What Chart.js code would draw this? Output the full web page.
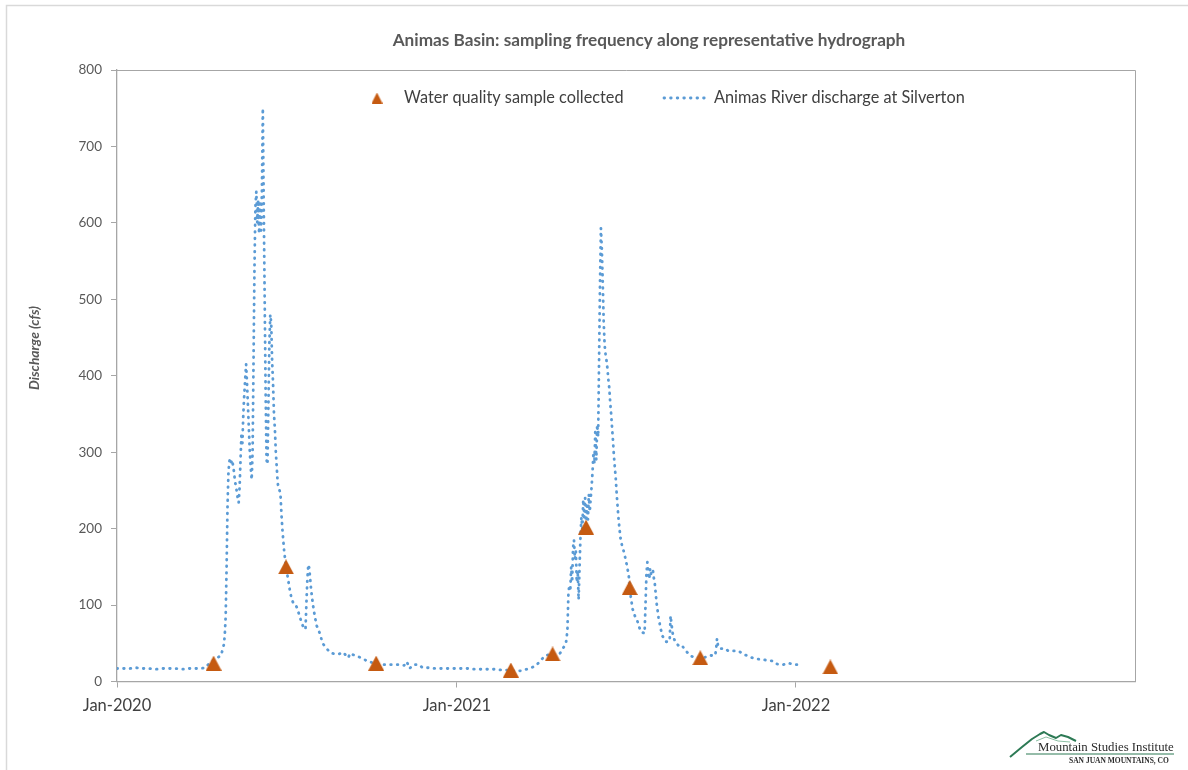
<!DOCTYPE html>
<html>
<head>
<meta charset="utf-8">
<title>Animas Basin hydrograph</title>
<script src="https://cdn.jsdelivr.net/npm/chart.js@4.4.1/dist/chart.umd.min.js"></script>
<style>
  html, body { margin: 0; padding: 0; background: #ffffff; }
  #wrap { position: relative; width: 1188px; height: 770px; }
</style>
</head>
<body>
<div id="wrap"><canvas id="chart" width="1188" height="770"></canvas></div>
<script>
// ---- text ----
const CHART_TITLE = 'Animas Basin: sampling frequency along representative hydrograph';
const Y_TITLE = 'Discharge (cfs)';
const SAMPLE_NAME = 'Water quality sample collected';
const FLOW_NAME = 'Animas River discharge at Silverton';

// ---- axes ----
const X_START = '2020-01-01';
const X_END = '2023-01-01';
const X_TICK_DATES = ['2020-01-01', '2021-01-01', '2022-01-01'];
const X_TICK_LABELS = ['Jan-2020', 'Jan-2021', 'Jan-2022'];
const Y_MIN = 0, Y_MAX = 800, Y_STEP = 100;

// ---- water quality samples (cfs at time of sampling) ----
const SAMPLE_DATES = ['2020-04-14', '2020-07-01', '2020-10-06', '2021-02-28', '2021-04-14',
                      '2021-05-20', '2021-07-06', '2021-09-20', '2022-02-07'];
const SAMPLE_VALUES = [24, 150, 24, 15, 36, 202, 123, 31, 19];

// ---- Animas River at Silverton, discharge (cfs) ----
const FLOW_DATES = [
  '2020-01-01','2020-01-08','2020-01-15','2020-01-22','2020-01-29','2020-02-05','2020-02-12','2020-02-19',
  '2020-02-26','2020-03-04','2020-03-11','2020-03-18','2020-03-25','2020-03-31','2020-04-05','2020-04-08',
  '2020-04-11','2020-04-14','2020-04-18','2020-04-22','2020-04-25','2020-04-26','2020-04-27','2020-04-28',
  '2020-04-29','2020-04-30','2020-05-01','2020-05-02','2020-05-03','2020-05-04','2020-05-05','2020-05-06',
  '2020-05-07','2020-05-08','2020-05-09','2020-05-10','2020-05-11','2020-05-12','2020-05-13','2020-05-14',
  '2020-05-15','2020-05-16','2020-05-17','2020-05-18','2020-05-19','2020-05-20','2020-05-21','2020-05-22',
  '2020-05-23','2020-05-24','2020-05-25','2020-05-26','2020-05-27','2020-05-28','2020-05-29','2020-05-30',
  '2020-05-31','2020-06-01','2020-06-02','2020-06-03','2020-06-04','2020-06-05','2020-06-06','2020-06-07',
  '2020-06-08','2020-06-09','2020-06-10','2020-06-11','2020-06-12','2020-06-13','2020-06-14','2020-06-15',
  '2020-06-16','2020-06-17','2020-06-18','2020-06-19','2020-06-20','2020-06-21','2020-06-22','2020-06-23',
  '2020-06-24','2020-06-25','2020-06-26','2020-06-27','2020-06-28','2020-06-29','2020-06-30','2020-07-01',
  '2020-07-03','2020-07-05','2020-07-07','2020-07-09','2020-07-11','2020-07-13','2020-07-15','2020-07-17',
  '2020-07-19','2020-07-21','2020-07-22','2020-07-23','2020-07-24','2020-07-25','2020-07-26','2020-07-28',
  '2020-07-30','2020-08-01','2020-08-03','2020-08-06','2020-08-08','2020-08-10','2020-08-13','2020-08-16',
  '2020-08-19','2020-08-23','2020-08-27','2020-09-01','2020-09-04','2020-09-06','2020-09-08','2020-09-13',
  '2020-09-20','2020-09-26','2020-10-01','2020-10-06','2020-10-11','2020-10-17','2020-10-23','2020-10-30',
  '2020-11-05','2020-11-08','2020-11-11','2020-11-15','2020-11-21','2020-11-25','2020-12-02','2020-12-09',
  '2020-12-16','2020-12-23','2020-12-30','2021-01-06','2021-01-13','2021-01-21','2021-01-28','2021-02-04',
  '2021-02-11','2021-02-18','2021-02-24','2021-02-28','2021-03-06','2021-03-12','2021-03-17','2021-03-20',
  '2021-03-24','2021-03-28','2021-03-31','2021-04-03','2021-04-06','2021-04-10','2021-04-14','2021-04-18',
  '2021-04-22','2021-04-25','2021-04-28','2021-04-29','2021-04-30','2021-05-01','2021-05-02','2021-05-03',
  '2021-05-04','2021-05-05','2021-05-06','2021-05-07','2021-05-08','2021-05-09','2021-05-10','2021-05-11',
  '2021-05-12','2021-05-13','2021-05-14','2021-05-15','2021-05-16','2021-05-17','2021-05-18','2021-05-19',
  '2021-05-20','2021-05-21','2021-05-22','2021-05-23','2021-05-24','2021-05-25','2021-05-26','2021-05-27',
  '2021-05-28','2021-05-29','2021-05-30','2021-05-31','2021-06-01','2021-06-02','2021-06-03','2021-06-04',
  '2021-06-05','2021-06-06','2021-06-07','2021-06-08','2021-06-09','2021-06-10','2021-06-11','2021-06-12',
  '2021-06-13','2021-06-14','2021-06-15','2021-06-16','2021-06-17','2021-06-18','2021-06-19','2021-06-20',
  '2021-06-21','2021-06-22','2021-06-23','2021-06-24','2021-06-25','2021-06-26','2021-06-27','2021-06-28',
  '2021-06-29','2021-06-30','2021-07-01','2021-07-02','2021-07-03','2021-07-04','2021-07-05','2021-07-06',
  '2021-07-07','2021-07-08','2021-07-09','2021-07-10','2021-07-11','2021-07-12','2021-07-14','2021-07-16',
  '2021-07-18','2021-07-20','2021-07-22','2021-07-23','2021-07-24','2021-07-25','2021-07-26','2021-07-27',
  '2021-07-28','2021-07-29','2021-07-30','2021-07-31','2021-08-01','2021-08-02','2021-08-03','2021-08-04',
  '2021-08-05','2021-08-06','2021-08-07','2021-08-08','2021-08-09','2021-08-10','2021-08-12','2021-08-14',
  '2021-08-16','2021-08-18','2021-08-19','2021-08-20','2021-08-21','2021-08-22','2021-08-24','2021-08-26',
  '2021-08-29','2021-09-01','2021-09-03','2021-09-06','2021-09-10','2021-09-14','2021-09-18','2021-09-22',
  '2021-09-26','2021-09-30','2021-10-06','2021-10-07','2021-10-08','2021-10-09','2021-10-11','2021-10-17',
  '2021-10-20','2021-10-26','2021-10-31','2021-11-05','2021-11-11','2021-11-17','2021-11-23','2021-11-30',
  '2021-12-06','2021-12-11','2021-12-18','2021-12-24','2021-12-30','2022-01-06'
];
const FLOW_VALUES = [
  17, 17, 17, 18, 17, 17, 16, 17,
  17, 17, 16, 17, 17, 17, 18, 22,
  25, 28, 31, 34, 48, 60, 85, 150,
  230, 274, 288, 292, 287, 290, 282, 274,
  262, 256, 248, 240, 234, 254, 290, 325,
  312, 350, 375, 395, 415, 390, 360, 330,
  300, 280, 264, 300, 420, 540, 620, 641,
  600, 630, 586, 625, 590, 640, 750, 620,
  500, 380, 290, 284, 360, 440, 480, 470,
  420, 390, 350, 330, 300, 280, 260, 252,
  250, 245, 220, 200, 185, 170, 160, 150,
  135, 120, 108, 102, 101, 96, 88, 80,
  73, 68, 70, 105, 135, 153, 148, 120,
  100, 85, 73, 64, 56, 49, 44, 40,
  37, 36, 36, 38, 33, 31, 37, 34,
  31, 27, 25, 23, 22, 22, 22, 22,
  21, 26, 17, 22, 22, 18, 18, 17,
  17, 17, 17, 17, 17, 16, 16, 16,
  16, 15, 15, 14, 14, 14, 16, 17,
  19, 22, 26, 30, 34, 35, 36, 35,
  37, 43, 49, 55, 70, 115, 126, 118,
  150, 130, 175, 185, 160, 170, 130, 145,
  107, 150, 190, 215, 200, 238, 215, 240,
  205, 230, 212, 245, 222, 240, 255, 275,
  300, 285, 330, 290, 336, 320, 420, 520,
  593, 565, 520, 470, 440, 428, 420, 410,
  395, 384, 365, 350, 332, 315, 295, 280,
  265, 245, 228, 212, 200, 188, 182, 176,
  173, 168, 163, 157, 152, 145, 138, 126,
  112, 104, 95, 92, 88, 84, 80, 72,
  65, 64, 63, 100, 140, 156, 139, 134,
  148, 140, 145, 145, 135, 128, 115, 102,
  93, 84, 78, 70, 66, 60, 56, 52,
  52, 53, 86, 75, 65, 58, 52, 49,
  45, 46, 42, 38, 33, 32, 31, 31,
  32, 34, 34, 42, 56, 47, 43, 43,
  40, 40, 40, 36, 33, 30, 29, 28,
  27, 23, 22, 24, 22, 22
];

// ---- colours ----
const FLOW_COLOR = '#5B9BD5';
const SAMPLE_COLOR = '#C55A11';
const AXIS_COLOR = '#a6a6a6';

// days since the first day of the x axis
const DAY_MS = 86400000;
function dayIndex(iso) {
  const [y, m, d] = iso.split('-').map(Number);
  const [y0, m0, d0] = X_START.split('-').map(Number);
  return (Date.UTC(y, m - 1, d) - Date.UTC(y0, m0 - 1, d0)) / DAY_MS;
}

const flowPoints = FLOW_DATES.map((d, i) => ({ x: dayIndex(d), y: FLOW_VALUES[i] }));
const samplePoints = SAMPLE_DATES.map((d, i) => ({ x: dayIndex(d), y: SAMPLE_VALUES[i] }));

// filled triangle marker, centred on its bounding box
function triangleMarker(w, h, color) {
  const c = document.createElement('canvas');
  c.width = w; c.height = h;
  const g = c.getContext('2d');
  g.fillStyle = color;
  g.beginPath();
  g.moveTo(0, h);
  g.lineTo(w / 2, 0);
  g.lineTo(w, h);
  g.closePath();
  g.fill();
  return c;
}
const sampleMarker = triangleMarker(16, 15, SAMPLE_COLOR);
const legendMarker = triangleMarker(11, 11, SAMPLE_COLOR);

const FONT = 'Lato, "Open Sans", "Liberation Sans", sans-serif';
const SERIF = '"Liberation Serif", "DejaVu Serif", serif';
const DOT_DASH = [0.6, 6];
const DOT_WIDTH = 2.8;

// frame, plot border, title, axis title, legend and logo
const decorations = {
  id: 'decorations',
  beforeDatasetsDraw(chart) {
    const { ctx, chartArea: a } = chart;
    ctx.save();
    ctx.strokeStyle = AXIS_COLOR;
    ctx.lineWidth = 1;
    ctx.beginPath();
    ctx.moveTo(a.left, a.top + 0.5);
    ctx.lineTo(a.right + 0.5, a.top + 0.5);
    ctx.lineTo(a.right + 0.5, a.bottom);
    ctx.stroke();
    ctx.restore();
  },
  afterDraw(chart) {
    const { ctx } = chart;
    ctx.save();

    // outer frame
    ctx.strokeStyle = '#d9d9d9';
    ctx.lineWidth = 1.5;
    ctx.beginPath();
    ctx.moveTo(6.5, 775);
    ctx.lineTo(6.5, 5.5);
    ctx.lineTo(1195, 5.5);
    ctx.stroke();

    // chart title
    ctx.fillStyle = '#595959';
    ctx.font = 'bold 17.2px ' + FONT;
    ctx.textAlign = 'center';
    ctx.textBaseline = 'middle';
    ctx.fillText(CHART_TITLE, 649, 40);

    // y axis title
    ctx.save();
    ctx.translate(35, 348);
    ctx.rotate(-Math.PI / 2);
    ctx.font = 'italic bold 13.8px ' + FONT;
    ctx.fillStyle = '#595959';
    ctx.fillText(Y_TITLE, 0, 0);
    ctx.restore();

    // legend
    const ly = 98;
    ctx.drawImage(legendMarker, 377 - 5.5, ly - 5.5);
    ctx.fillStyle = '#404040';
    ctx.font = '16.3px ' + FONT;
    ctx.textAlign = 'left';
    ctx.fillText(SAMPLE_NAME, 404, ly);
    ctx.save();
    ctx.strokeStyle = FLOW_COLOR;
    ctx.lineWidth = DOT_WIDTH;
    ctx.lineCap = 'round';
    ctx.setLineDash(DOT_DASH);
    ctx.beginPath();
    ctx.moveTo(664, ly);
    ctx.lineTo(708, ly);
    ctx.stroke();
    ctx.restore();
    ctx.fillText(FLOW_NAME, 714, ly);

    // institute logo
    ctx.save();
    ctx.strokeStyle = '#2d7a55';
    ctx.lineWidth = 2;
    ctx.lineJoin = 'round';
    ctx.beginPath();
    ctx.moveTo(1010, 757);
    ctx.lineTo(1022, 747);
    ctx.lineTo(1032, 739);
    ctx.lineTo(1040, 734);
    ctx.lineTo(1044, 732);
    ctx.lineTo(1049, 735);
    ctx.lineTo(1056, 738);
    ctx.lineTo(1061, 735);
    ctx.lineTo(1068, 737);
    ctx.lineTo(1076, 741);
    ctx.stroke();
    ctx.strokeStyle = '#8bbfa3';
    ctx.lineWidth = 1;
    ctx.beginPath();
    ctx.moveTo(1036, 741);
    ctx.lineTo(1046, 737);
    ctx.lineTo(1058, 741);
    ctx.lineTo(1070, 742);
    ctx.stroke();
    ctx.strokeStyle = '#2d7a55';
    ctx.lineWidth = 1.2;
    ctx.beginPath();
    ctx.moveTo(1026, 754);
    ctx.lineTo(1174, 754);
    ctx.stroke();
    ctx.fillStyle = '#2b2b2b';
    ctx.font = '12.8px ' + SERIF;
    ctx.textAlign = 'left';
    ctx.textBaseline = 'alphabetic';
    ctx.fillText('Mountain Studies Institute', 1038, 751);
    ctx.font = 'bold 7.5px ' + SERIF;
    ctx.fillText('SAN JUAN MOUNTAINS, CO', 1069, 763);
    ctx.restore();

    ctx.restore();
  }
};

new Chart(document.getElementById('chart'), {
  type: 'line',
  data: {
    datasets: [
      {
        label: SAMPLE_NAME,
        data: samplePoints,
        showLine: false,
        pointStyle: sampleMarker,
        pointRadius: 8,
        pointHoverRadius: 8,
        order: 0
      },
      {
        label: FLOW_NAME,
        data: flowPoints,
        borderColor: FLOW_COLOR,
        borderWidth: DOT_WIDTH,
        borderDash: DOT_DASH,
        borderCapStyle: 'round',
        borderJoinStyle: 'round',
        pointRadius: 0,
        tension: 0,
        fill: false,
        order: 1
      }
    ]
  },
  options: {
    responsive: false,
    animation: false,
    devicePixelRatio: 1,
    layout: { padding: { left: 0, top: 70, right: 53, bottom: 0 } },
    plugins: { legend: { display: false }, title: { display: false }, tooltip: { enabled: false } },
    scales: {
      x: {
        type: 'linear',
        min: dayIndex(X_START),
        max: dayIndex(X_END),
        afterBuildTicks(scale) {
          scale.ticks = X_TICK_DATES.map(d => ({ value: dayIndex(d) }));
        },
        afterFit(scale) { scale.height = 88.5; },
        ticks: {
          autoSkip: false,
          maxRotation: 0,
          padding: 8,
          color: '#404040',
          font: { family: FONT, size: 16.5 },
          callback(value) {
            const i = X_TICK_DATES.findIndex(d => dayIndex(d) === value);
            return i >= 0 ? X_TICK_LABELS[i] : '';
          }
        },
        grid: { drawOnChartArea: false, drawTicks: true, tickLength: 6, color: AXIS_COLOR },
        border: { display: true, color: AXIS_COLOR, width: 1.3 }
      },
      y: {
        min: Y_MIN,
        max: Y_MAX,
        afterFit(scale) { scale.width = 117; },
        ticks: {
          stepSize: Y_STEP,
          padding: 9,
          color: '#595959',
          font: { family: FONT, size: 13.5 }
        },
        grid: { drawOnChartArea: false, drawTicks: true, tickLength: 6, color: AXIS_COLOR },
        border: { display: true, color: AXIS_COLOR, width: 1.3 }
      }
    }
  },
  plugins: [decorations]
});
</script>
</body>
</html>
